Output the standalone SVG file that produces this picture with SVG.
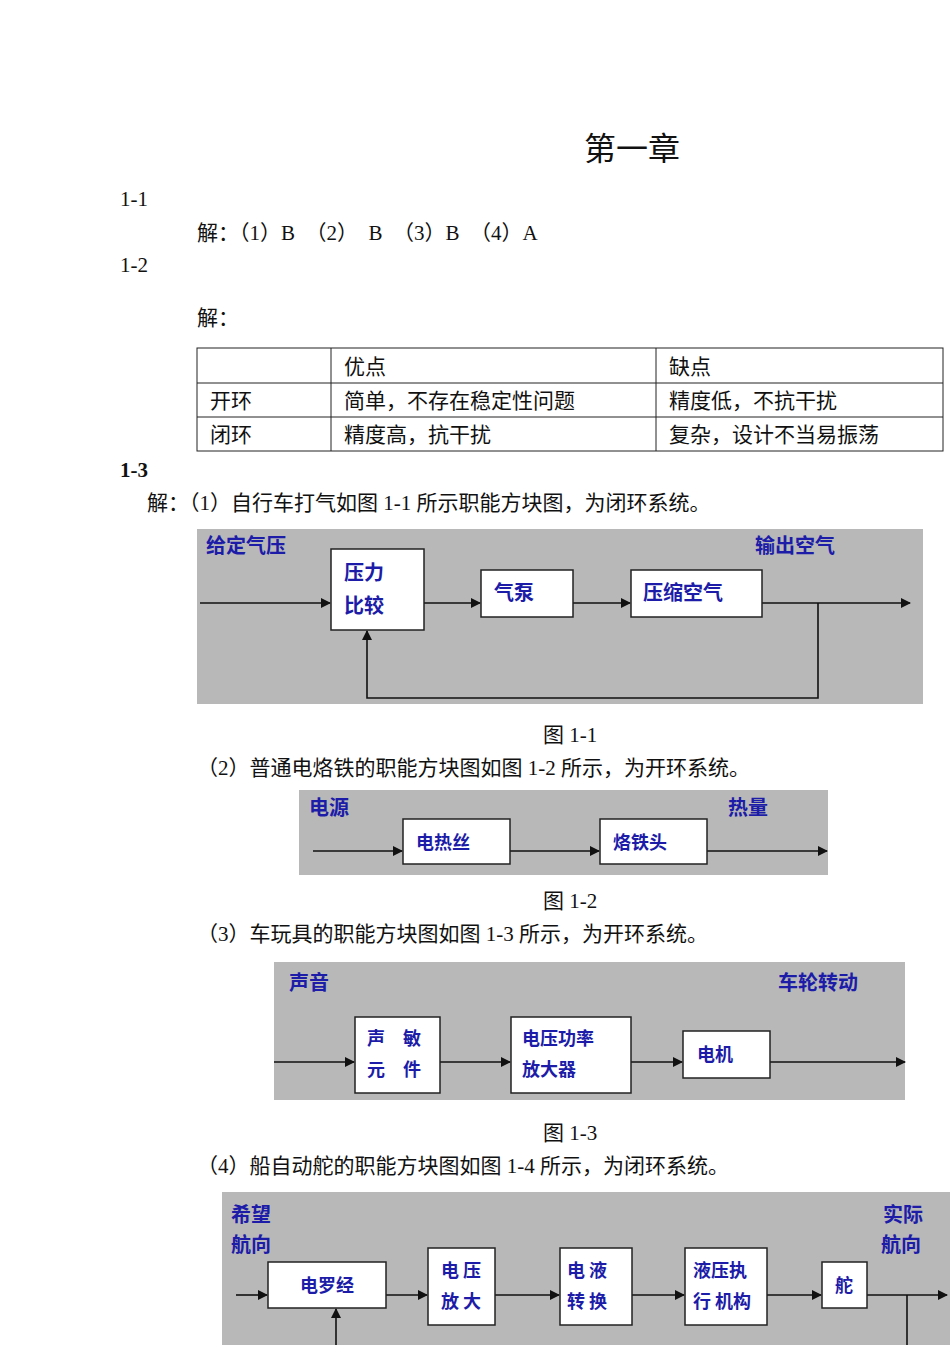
<svg xmlns="http://www.w3.org/2000/svg" width="950" height="1345" viewBox="0 0 950 1345">
<style>
.t{font-family:"Liberation Serif","Noto Sans CJK SC",serif;font-size:21px;fill:#111}
.b{font-family:"Noto Sans CJK SC",sans-serif;font-size:20px;font-weight:bold;fill:#1c1ca8}
.s{font-size:18px}
.bg{fill:#b8b8b8}
.bx{fill:#fff;stroke:#222;stroke-width:1.5}
.ln{stroke:#111;stroke-width:1.6;fill:none}
.tb{fill:none;stroke:#222;stroke-width:1}
</style>
<defs><marker id="a" markerWidth="10" markerHeight="10" refX="9" refY="5" orient="auto" markerUnits="userSpaceOnUse"><path d="M0,0L10,5L0,10z" fill="#111"/></marker></defs>
<rect width="950" height="1345" fill="#fff"/>
<text class="t" x="584" y="160" style="font-size:32px">第一章</text>
<text class="t" x="120" y="206">1-1</text>
<text class="t" x="197" y="240">解：（1）B　（2）　B　（3）B　（4）A</text>
<text class="t" x="120" y="272">1-2</text>
<text class="t" x="197" y="325">解：</text>
<g id="table">
<rect class="tb" x="197" y="348" width="746" height="103"/>
<line class="tb" x1="197" y1="383" x2="943" y2="383"/><line class="tb" x1="197" y1="417" x2="943" y2="417"/>
<line class="tb" x1="331" y1="348" x2="331" y2="451"/><line class="tb" x1="656" y1="348" x2="656" y2="451"/>
<text class="t" x="344" y="374">优点</text><text class="t" x="669" y="374">缺点</text>
<text class="t" x="210" y="408">开环</text><text class="t" x="344" y="408">简单，不存在稳定性问题</text><text class="t" x="669" y="408">精度低，不抗干扰</text>
<text class="t" x="210" y="442">闭环</text><text class="t" x="344" y="442">精度高，抗干扰</text><text class="t" x="669" y="442">复杂，设计不当易振荡</text>
</g>
<text class="t" x="120" y="477" font-weight="bold">1-3</text>
<text class="t" x="147" y="510">解：（1）自行车打气如图 1-1 所示职能方块图，为闭环系统。</text>
<rect class="bg" x="197" y="529" width="726" height="175"/>
<rect class="bg" x="299" y="790" width="529" height="85"/>
<rect class="bg" x="274" y="962" width="631" height="138"/>
<rect class="bg" x="222" y="1192" width="728" height="153"/>
<g id="connectors">
<path class="ln" d="M200,603H330" marker-end="url(#a)"/>
<path class="ln" d="M424,603H480" marker-end="url(#a)"/>
<path class="ln" d="M573,603H630" marker-end="url(#a)"/>
<path class="ln" d="M762,603H910" marker-end="url(#a)"/>
<path class="ln" d="M818,603V698H367V631" marker-end="url(#a)"/>
<path class="ln" d="M313,851H402" marker-end="url(#a)"/>
<path class="ln" d="M510,851H599" marker-end="url(#a)"/>
<path class="ln" d="M707,851H827" marker-end="url(#a)"/>
<path class="ln" d="M274,1062H354" marker-end="url(#a)"/>
<path class="ln" d="M440,1062H510" marker-end="url(#a)"/>
<path class="ln" d="M631,1062H682" marker-end="url(#a)"/>
<path class="ln" d="M770,1062H905" marker-end="url(#a)"/>
<path class="ln" d="M236,1295H267" marker-end="url(#a)"/>
<path class="ln" d="M386,1295H427" marker-end="url(#a)"/>
<path class="ln" d="M495,1295H559" marker-end="url(#a)"/>
<path class="ln" d="M632,1295H684" marker-end="url(#a)"/>
<path class="ln" d="M767,1295H821" marker-end="url(#a)"/>
<path class="ln" d="M867,1295H947" marker-end="url(#a)"/>
<path class="ln" d="M907,1295V1345"/>
<path class="ln" d="M336,1345V1309" marker-end="url(#a)"/>
</g>
<text class="b" x="206" y="553">给定气压</text><text class="b" x="755" y="553">输出空气</text>
<g id="n1"><rect class="bx" x="331" y="549" width="93" height="81"/><text class="b" x="344" y="580">压力</text><text class="b" x="344" y="613">比较</text></g>
<g id="n2"><rect class="bx" x="481" y="570" width="92" height="47"/><text class="b" x="494" y="600">气泵</text></g>
<g id="n3"><rect class="bx" x="631" y="570" width="131" height="47"/><text class="b" x="643" y="600">压缩空气</text></g>
<text class="t" x="543" y="742">图 1-1</text>
<text class="t" x="197" y="775">（2）普通电烙铁的职能方块图如图 1-2 所示，为开环系统。</text>
<text class="b" x="309" y="815">电源</text><text class="b" x="728" y="815">热量</text>
<g id="n4"><rect class="bx" x="403" y="819" width="107" height="45"/><text class="b s" x="416" y="849">电热丝</text></g>
<g id="n5"><rect class="bx" x="600" y="819" width="107" height="45"/><text class="b s" x="613" y="849">烙铁头</text></g>
<text class="t" x="543" y="908">图 1-2</text>
<text class="t" x="197" y="941">（3）车玩具的职能方块图如图 1-3 所示，为开环系统。</text>
<text class="b" x="289" y="990">声音</text><text class="b" x="778" y="990">车轮转动</text>
<g id="n6"><rect class="bx" x="355" y="1017" width="85" height="76"/><text class="b s" x="367" y="1045">声　敏</text><text class="b s" x="367" y="1076">元　件</text></g>
<g id="n7"><rect class="bx" x="511" y="1017" width="120" height="76"/><text class="b s" x="522" y="1045">电压功率</text><text class="b s" x="522" y="1076">放大器</text></g>
<g id="n8"><rect class="bx" x="683" y="1031" width="87" height="47"/><text class="b s" x="697" y="1061">电机</text></g>
<text class="t" x="543" y="1140">图 1-3</text>
<text class="t" x="197" y="1173">（4）船自动舵的职能方块图如图 1-4 所示，为闭环系统。</text>
<text class="b" x="231" y="1222">希望</text><text class="b" x="231" y="1252">航向</text>
<text class="b" x="883" y="1222">实际</text><text class="b" x="881" y="1252">航向</text>
<g id="n9"><rect class="bx" x="268" y="1262" width="118" height="46"/><text class="b s" x="300" y="1292">电罗经</text></g>
<g id="n10"><rect class="bx" x="428" y="1248" width="67" height="77"/><text class="b s" x="441" y="1277">电 压</text><text class="b s" x="441" y="1308">放 大</text></g>
<g id="n11"><rect class="bx" x="560" y="1248" width="72" height="77"/><text class="b s" x="567" y="1277">电 液</text><text class="b s" x="567" y="1308">转 换</text></g>
<g id="n12"><rect class="bx" x="685" y="1248" width="82" height="77"/><text class="b s" x="693" y="1277">液压执</text><text class="b s" x="693" y="1308">行 机构</text></g>
<g id="n13"><rect class="bx" x="822" y="1262" width="45" height="46"/><text class="b s" x="835" y="1292">舵</text></g>
</svg>
